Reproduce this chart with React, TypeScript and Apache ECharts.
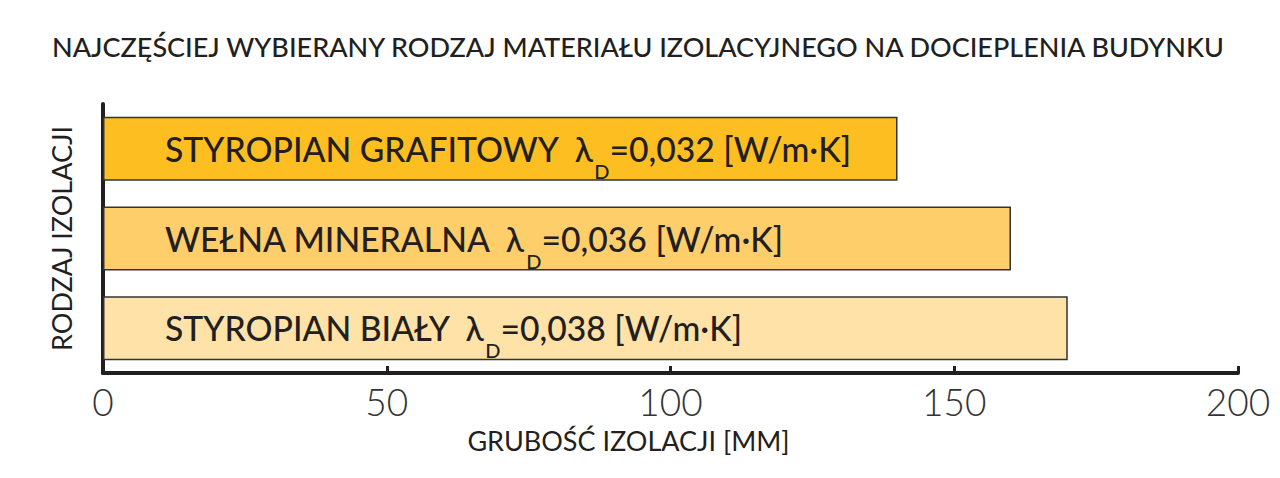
import * as echarts from 'echarts';
import { useEffect, useRef } from 'react';

const categories = ['STYROPIAN GRAFITOWY', 'WEŁNA MINERALNA', 'STYROPIAN BIAŁY'];
const lambdas = ['0,032', '0,036', '0,038'];
const thickness = [140, 160, 170];
const colors = ['#FDBE22', '#FECE6B', '#FFE2A8'];
const xTicks = [0, 50, 100, 150, 200];

const ink = '#231F20';

export default function App() {
  const container = useRef<HTMLDivElement | null>(null);

  useEffect(() => {
    document.body.style.margin = '0';
    if (!container.current) return;
    const chart = echarts.init(container.current, null, { renderer: 'svg' });
    chart.setOption({
      animation: false,
      textStyle: { fontFamily: 'Lato' },
      title: {
        text: 'NAJCZĘŚCIEJ WYBIERANY RODZAJ MATERIAŁU IZOLACYJNEGO NA DOCIEPLENIA BUDYNKU',
        left: 47,
        top: 28,
        textStyle: { fontFamily: 'Lato', fontSize: 27, fontWeight: 500, color: ink },
      },
      grid: { left: 103, right: 42, top: 104, bottom: 105 },
      xAxis: {
        type: 'value',
        min: xTicks[0],
        max: xTicks[xTicks.length - 1],
        interval: 50,
        name: 'GRUBOŚĆ IZOLACJI [MM]',
        nameLocation: 'middle',
        nameGap: 54,
        nameTextStyle: { fontFamily: 'Lato', fontSize: 27, color: ink, padding: [0, 84, 0, 0] },
        axisLine: { show: true, lineStyle: { color: ink, width: 4 } },
        axisTick: { show: true, inside: true, length: 7, lineStyle: { color: ink, width: 3 } },
        axisLabel: { fontFamily: 'Lato', fontWeight: 300, fontSize: 37, color: '#333', margin: 10 },
        splitLine: { show: false },
      },
      yAxis: {
        type: 'category',
        data: categories,
        inverse: true,
        name: 'RODZAJ IZOLACJI',
        nameLocation: 'middle',
        nameGap: 28,
        nameRotate: 90,
        nameTextStyle: { fontFamily: 'Lato', fontSize: 27, color: ink },
        axisLine: { show: true, lineStyle: { color: ink, width: 4 } },
        axisTick: { show: false },
        axisLabel: { show: false },
      },
      series: [
        {
          type: 'bar',
          barWidth: 64,
          data: thickness.map((v, i) => ({
            value: v,
            itemStyle: { color: colors[i], borderColor: '#333', borderWidth: 1.5 },
          })),
          label: {
            show: true,
            position: 'insideLeft',
            distance: 62,
            formatter: (p: any) => `{a|${categories[p.dataIndex]}  λ}{sub|D}{a|=${lambdas[p.dataIndex]} [W/m·K]}`,
            rich: {
              a: { fontFamily: 'Lato', fontSize: 33.7, fontWeight: 500, color: ink, lineHeight: 64 },
              sub: { fontFamily: 'Lato', fontSize: 20, fontWeight: 500, color: ink, lineHeight: 20, verticalAlign: 'bottom' },
            },
          },
        },
      ],
    } as echarts.EChartsOption);
    return () => chart.dispose();
  }, []);

  return <div ref={container} style={{ width: 1280, height: 478 }} />;
}
